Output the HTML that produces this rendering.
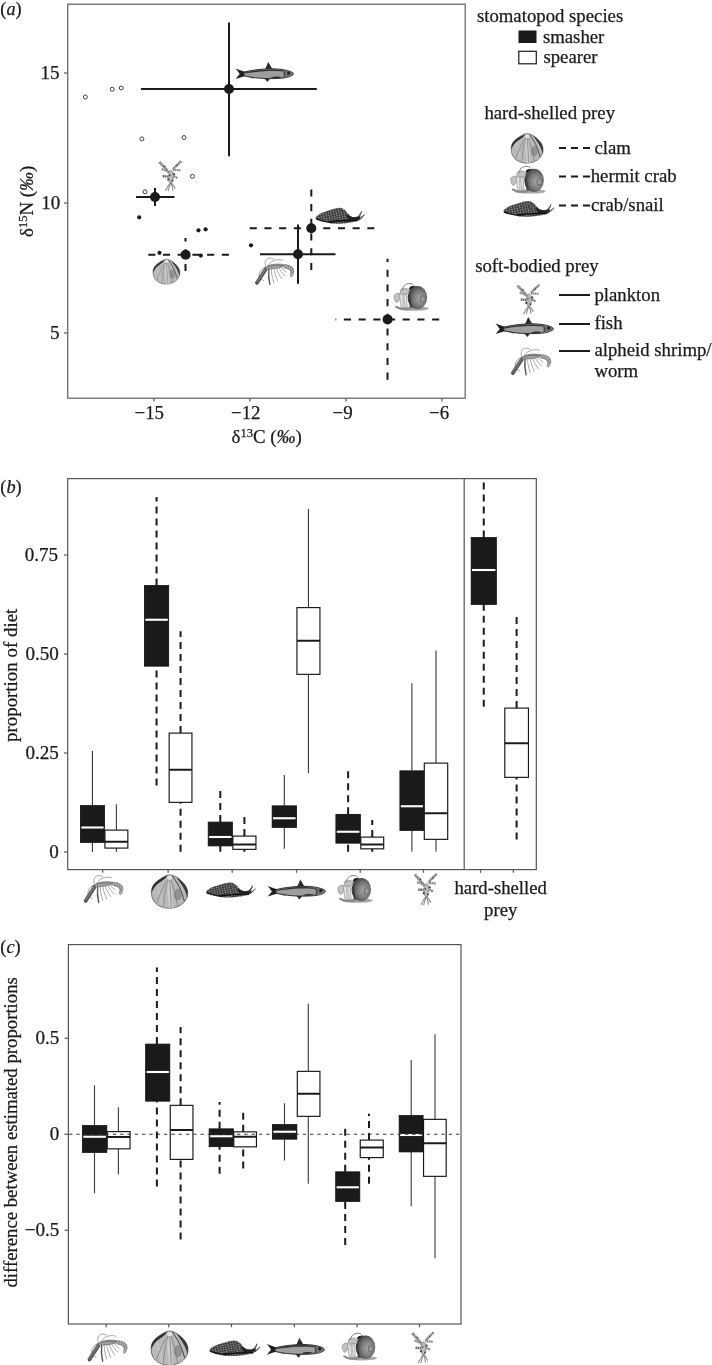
<!DOCTYPE html>
<html><head><meta charset="utf-8">
<style>
html,body{margin:0;padding:0;background:#fff;width:712px;height:1365px;overflow:hidden}
svg{display:block;will-change:transform}
text{font-family:"Liberation Serif",serif;fill:#1a1a1a;font-size:18.9px;stroke:#1a1a1a;stroke-width:0.25px}
.it{font-style:italic}
.tk text,text.tk{font-size:19.1px}
text.lg{font-size:18.75px}
</style></head><body>
<svg width="712" height="1365" viewBox="0 0 712 1365">
<defs>
<!--ICONS-->
<g id="fish">
 <pattern id="fspk" width="2" height="1.6" patternUnits="userSpaceOnUse">
  <rect width="2" height="1.6" fill="#b2b2b2"/><circle cx="1" cy="0.8" r="0.5" fill="#555"/>
 </pattern>
 <path d="M0,6.3 C2,8.5 3.5,10.5 4.4,12 C3,13.8 1.5,15.5 0.3,17 C3.5,15.8 6.5,14.8 10,13.8 L10,9.8 C6.5,8.8 3.5,7.6 0,6.3 Z" fill="#1e1e1e"/>
 <path d="M8.5,10 C15,8.3 25,7 33,6.7 C42,6.5 50,7.4 55.5,9.6 C57.5,10.5 58.2,11.4 58,12.2 C57,13.6 54,14.8 50,15.6 C45,16.4 39,16.6 33,16.5 C24,16.5 15,15.2 8.5,13.7 Z" fill="url(#fspk)" stroke="#1e1e1e" stroke-width="0.9"/>
 <path d="M9,10.4 C16,8.7 26,7.5 34,7.3 C43,7.2 51,8.2 56,10.2 C48,9.2 40,8.9 33,9 C24,9.3 16,10.3 9,11.4 Z" fill="#333"/>
 <path d="M47,8 C51,8.6 55,9.6 57.4,10.8 C58.3,11.6 58,12.6 56.6,13.4 C53.5,14.8 50.5,15.5 47.6,15.9 C48.6,13 48.4,10.5 47,8 Z" fill="#6e6e6e"/>
 <circle cx="53.2" cy="11" r="1.5" fill="#1a1a1a"/>
 <path d="M48,8.5 C49.5,11 49.5,13.5 48.2,15.8" fill="none" stroke="#333" stroke-width="0.8"/>
 <path d="M29.8,7 L32.8,0 L36.8,6.7 Z" fill="#2a2a2a"/>
 <path d="M29,16.4 L32,20 L34.7,16.3 Z" fill="#2a2a2a"/>
 <path d="M35,15.6 C38,14.2 43,13.9 47,14.8 C43,16.2 38,16.5 35,15.6 Z" fill="#2e2e2e"/>
 <path d="M13,14 C15,14.8 17,15.4 18.5,16.6 C16.5,16.2 14.5,15.3 13,14 Z" fill="#333"/>
</g>
<g id="clam">
 <path d="M18,0.2 C21,0.2 24,1.6 27,3.8 C31,6.8 34.5,10.5 36,15 C37,19.5 36,24 33,27.5 C29.5,31.5 24,33.6 18,33.7 C12,33.8 6.5,31.5 3.2,27.5 C0.5,24 -0.3,19.5 0.4,15 C1,11.5 3,8.8 6.5,6.2 C10,3.6 14,0.3 18,0.2 Z" fill="#b9b9b9" stroke="#4a4a4a" stroke-width="0.7"/>
 <path d="M14,5 C16,14 17,24 17.5,33.5 L22,33.5 C21,24 20.5,14 19.5,3 Z" fill="#cbcbcb"/>
 <path d="M5,13 C6.5,19 8.5,26 11,32 L14,33 C11.5,26 9,19 7,10 Z" fill="#c2c2c2"/>
 <path d="M6.5,6.2 C3,8.8 1,11.5 0.4,15 C0.3,16 0.3,17 0.5,18 C2,13.5 5,10 9,7.5 C12,5.5 14.5,3.5 16.5,1.2 C13,2 9.5,4 6.5,6.2 Z" fill="#2e2e2e"/>
 <path d="M25,2.5 C29,5 33,8.5 35.3,13 C36.5,16 36.6,20 35.8,23.5 C34.8,17.5 32,12 28,7 C27,5.5 26,4 25,2.5 Z" fill="#3a3a3a"/>
 <path d="M21,1.2 C26,8 30.5,16 33,26.5" fill="none" stroke="#333" stroke-width="0.9"/>
 <ellipse cx="26.5" cy="20" rx="4" ry="6" fill="#777" opacity="0.6"/>
 <g stroke="#777" stroke-width="0.7" fill="none">
  <path d="M18,1.5 C13,10 8.5,19 5.5,28.5"/>
  <path d="M18,1.5 C15,11 13,21 12,32.5"/>
  <path d="M18.3,1.5 C19,12 19.5,23 20,33.5"/>
  <path d="M18.6,1.5 C22,12 24.5,22 26.5,32"/>
 </g>
 <ellipse cx="18.3" cy="3.2" rx="2.6" ry="2.2" fill="#e0e0e0"/>
</g>
<g id="hermit">
 <radialGradient id="hsg" cx="0.62" cy="0.55" r="0.6">
  <stop offset="0" stop-color="#a8a8a8"/><stop offset="0.55" stop-color="#7a7a7a"/><stop offset="1" stop-color="#404040"/>
 </radialGradient>
 <ellipse cx="20" cy="25.3" rx="15.5" ry="2.2" fill="#a8a8a8"/>
 <ellipse cx="24" cy="14.2" rx="9.8" ry="11.6" fill="url(#hsg)"/>
 <ellipse cx="29.3" cy="15.8" rx="2.6" ry="3.2" fill="#9a9a9a" stroke="#555" stroke-width="0.7"/>
 <path d="M15.5,5 C17,3.2 19.5,2.4 22,2.6 C19.5,3.8 17.8,5.2 16.6,7 Z" fill="#111"/>
 <path d="M14.5,8 C15.5,14 15,20 16.5,25 L19,25 C17,19 17,13 16,7 Z" fill="#333" opacity="0.7"/>
 <g fill="#c2c2c2" stroke="#8a8a8a" stroke-width="0.7">
  <path d="M0.8,12.5 C2,10 5,9.3 7,10.5 C7.5,13.5 6,17.5 3.5,19.5 C1.5,18.5 0.2,15.5 0.8,12.5 Z"/>
  <path d="M7,6.5 C9,4.5 13,4.5 15.5,6.5 L15.5,10.5 C12.5,11.5 9.5,11 7,9.5 Z"/>
 </g>
 <g fill="#e2e2e2" stroke="#8a8a8a" stroke-width="0.6">
  <path d="M6,11 L7.5,23 L10,23 L9.5,11 Z"/>
  <path d="M10.2,11 L11.5,23 L13.8,23 L13,11 Z"/>
 </g>
 <path d="M9,7 C9.5,2.5 12,0.4 16,0.3 C18.5,0.2 19.5,0.8 20,1.5" fill="none" stroke="#7a7a7a" stroke-width="1"/>
 <path d="M2,23 C6,25.5 12,26 17,25.5" fill="none" stroke="#8a8a8a" stroke-width="2"/>
</g>
<g id="snail">
 <pattern id="spk" width="2.6" height="2.2" patternUnits="userSpaceOnUse" patternTransform="rotate(-12)">
  <rect width="2.6" height="2.2" fill="#333"/><circle cx="1.3" cy="1.1" r="0.8" fill="#a0a0a0"/>
 </pattern>
 <path d="M0,9.6 C2,6.6 7,4.4 13,2.8 C17,1.6 21,0.4 24.5,0.3 C28,0.6 30.5,2.6 32.5,5.6 C34.2,8 36.5,9.2 40.5,9 C42.8,8.6 44.4,7 46.3,3.2 L47.2,3.6 C46,6.4 45.2,8.4 45.4,9.6 C46.8,8.6 48.2,7.2 49.4,6.2 L49.7,7 C47.5,9.6 45.5,11.8 42,12.9 C36,14.4 30,15.2 24,15.4 C18,15.5 14,14.9 12,13.8 C8,13.5 3,12.5 0.5,11 Z" fill="url(#spk)"/>
 <path d="M0.5,10.5 C5,12.5 10,13.6 16,14.2" fill="none" stroke="#1a1a1a" stroke-width="1.4"/>
 <path d="M14,13.8 C24,12.6 34,11.8 43,12" fill="none" stroke="#111" stroke-width="1.6"/>
 <path d="M32.5,5.8 C34.5,8.3 37,9.4 41,9.2 C43,8.8 44.5,8 45.4,9.6 C44,11 41,12 36,12 C33,11.5 31,9 32.5,5.8 Z" fill="#222"/>
</g>
<g id="plankton" fill="none" stroke-linecap="butt">
 <g stroke="#8e8e8e" stroke-dasharray="1.7 0.45">
  <path d="M0.5,0.6 C4,4 7.5,8 11,12" stroke-width="3"/>
  <path d="M22.4,-0.2 C19.5,2.5 16.5,5 14.2,8" stroke-width="2.6"/>
  <path d="M2.8,7.8 C4.5,8.2 6.5,8.8 8.5,9.8" stroke-width="2.4"/>
  <path d="M21.6,9 C19,8.6 16.5,8.4 14.2,9" stroke-width="2.2"/>
  <path d="M3.8,14.8 C5.5,14.8 7.5,14.9 9.5,15.2" stroke-width="2.4" stroke="#6a6a6a"/>
  <path d="M18.5,16.6 C17,15.6 15.5,14.8 13.8,14.2" stroke-width="2.2" stroke="#7a7a7a"/>
 </g>
 <g stroke="#777" stroke-width="0.8">
  <path d="M0.5,0.6 C4,4 7.5,8 11,12"/>
  <path d="M22.4,-0.2 C19.5,2.5 16.5,5 14.2,8"/>
 </g>
 <ellipse cx="12.1" cy="15.5" rx="2.5" ry="6.5" fill="#b8b8b8" stroke="#8a8a8a" stroke-width="0.8"/>
 <g stroke="#8a8a8a" stroke-width="1.1" stroke-linecap="round">
  <path d="M11.6,21.5 C9.5,24 8,26.5 6.8,29.2"/>
  <path d="M11.8,21.5 C10.8,25 10,27 9.4,29.3"/>
  <path d="M12.2,21.5 C13.5,24.5 14,26.5 14,28.8"/>
  <path d="M12.4,21.5 C14.5,23.5 15.8,25 16.2,27"/>
 </g>
 <g fill="#3a3a3a">
  <circle cx="15.3" cy="12.6" r="1.1"/>
  <circle cx="9.4" cy="18.2" r="1.1"/>
  <circle cx="13.6" cy="19.3" r="0.9"/>
  <circle cx="11" cy="14" r="0.8"/>
  <circle cx="6" cy="4.8" r="0.8"/>
  <circle cx="18.5" cy="4" r="0.7"/>
 </g>
</g>
<g id="shrimp" fill="none" stroke-linecap="round">
 <g stroke="#8a8a8a" stroke-width="0.75">
  <path d="M11,9.5 C9.5,6 10,3 12.5,1.2 C14.5,0.2 17,0.6 19,1.6"/>
  <path d="M13,8.5 C15,5 18,3 22,2.3 C24,2 26,2.2 28,2.8"/>
  <path d="M10.5,10.2 C7,11 5,13.5 4.3,17 C4,20 5.5,22.5 8.5,23.5"/>
  <path d="M16.5,11.5 C16.5,15 17,19 19,25.5"/>
  <path d="M19,11.3 C19.5,15 21,19 23,24"/>
  <path d="M21.5,11 C22.5,14.5 24.5,18 27,21.5"/>
  <path d="M24,10.5 C25.5,13.5 27.5,16 30,18.5"/>
  <path d="M26.5,10 C28,12 29.5,13.5 31.5,15"/>
 </g>
 <path d="M14,11.5 C13.5,16 13.5,21 15,27.5" stroke="#555" stroke-width="1.4"/>
 <path d="M0.5,25.3 C0,27 1.6,28.3 3,27.2 L12.6,12.2 L10.2,10.3 Z" fill="#5a5a5a" stroke="#333" stroke-width="0.5"/>
 <path d="M2.2,25 L10.8,12" stroke="#8a8a8a" stroke-width="0.8"/>
 <path d="M11,10 C15,7 20,6.3 26,6.8 C28,7 29.5,7.6 30,8.5 C27,10 22,11.2 16,11.5 C13.5,11.6 12,11 11,10 Z" fill="#a2a2a2" stroke="#555" stroke-width="0.6"/>
 <path d="M13,9 C17,8 22,7.8 28,8.2" stroke="#666" stroke-width="0.8"/>
 <path d="M29,7.2 C33,7.3 36.5,8.5 38.5,11 C39.5,13 39.3,16 38,18.5 L36.6,20 C35.5,19 35.5,17.5 36.2,16 C36.5,14 35.5,12.5 33.5,11.5 C32,11 30.5,10.8 29.5,10.5 Z" fill="#b4b4b4" stroke="#666" stroke-width="0.6"/>
 <g stroke="#6a6a6a" stroke-width="0.7">
  <path d="M31.5,7.4 L31.2,10.8 M34,7.9 L33.4,11.6 M36.3,9 L35.3,13 M38.2,11 L36.4,14.6 M39,14 L36.6,16.5"/>
 </g>
</g>

</defs>

<!-- ================= PANEL A ================= -->
<text x="0.3" y="15.4" style="font-size:18.3px">(<tspan class="it">a</tspan>)</text>
<g fill="none" stroke="#6a6a6a" stroke-width="1.3">
<rect x="67.7" y="4.2" width="397.5" height="394"/>
</g>
<!-- y ticks -->
<g stroke="#555" stroke-width="1.2">
<line x1="64" y1="73" x2="67.5" y2="73"/>
<line x1="64" y1="203" x2="67.5" y2="203"/>
<line x1="64" y1="333" x2="67.5" y2="333"/>
<line x1="154" y1="398" x2="154" y2="401.5"/>
<line x1="250" y1="398" x2="250" y2="401.5"/>
<line x1="346" y1="398" x2="346" y2="401.5"/>
<line x1="442" y1="398" x2="442" y2="401.5"/>
</g>
<g text-anchor="end" class="tk">
<text x="59.6" y="78.6">15</text>
<text x="60.3" y="208.8">10</text>
<text x="59.6" y="339.2">5</text>
</g>
<g>
<text x="134.5" y="419">−15</text>
<text x="231" y="419">−12</text>
<text x="332.5" y="419">−9</text>
<text x="429" y="419">−6</text>
</g>
<text x="231.5" y="443.2">δ<tspan font-size="12.5" dy="-6.5">13</tspan><tspan dy="6.5">C (<tspan class="it">‰</tspan>)</tspan></text>
<text transform="translate(33.2,237) rotate(-90)">δ<tspan font-size="12.5" dy="-6.5">15</tspan><tspan dy="6.5">N (<tspan class="it">‰</tspan>)</tspan></text>

<!--INST-->
<g id="instances">
<use href="#fish" transform="translate(235.4,62.1)"/>
<use href="#fish" transform="translate(495.4,317.1)"/>
<use href="#fish" transform="translate(267.5,879.6)"/>
<use href="#fish" transform="translate(266.6,1337.8)"/>
<use href="#clam" transform="translate(152.9,259.1) scale(0.74)"/>
<use href="#clam" transform="translate(511,133.4) scale(0.882)"/>
<use href="#clam" transform="translate(151.3,874.6)"/>
<use href="#clam" transform="translate(150.9,1330.8) scale(1.02)"/>
<use href="#hermit" transform="translate(393.4,283.3)"/>
<use href="#hermit" transform="translate(510.1,166.1) scale(1.0)"/>
<use href="#hermit" transform="translate(337.3,875.3)"/>
<use href="#hermit" transform="translate(341.5,1333)"/>
<use href="#snail" transform="translate(315.5,207.5) scale(0.99,1.06)"/>
<use href="#snail" transform="translate(503.4,200.8) scale(1.02,1.04)"/>
<use href="#snail" transform="translate(206,882.1)"/>
<use href="#snail" transform="translate(209.4,1340.2) scale(1.02,1.03)"/>
<use href="#plankton" transform="translate(158.8,161.4)"/>
<use href="#plankton" transform="translate(516.9,285.1) scale(1.0,0.98)"/>
<use href="#plankton" transform="translate(414.3,874.1) scale(1.0,1.05)"/>
<use href="#plankton" transform="translate(411.8,1332.6) scale(0.97,1.03)"/>
<use href="#shrimp" transform="translate(255,257.5) scale(0.99,0.98)"/>
<use href="#shrimp" transform="translate(510.8,347.5) scale(1.02,0.99)"/>
<use href="#shrimp" transform="translate(83.7,875)"/>
<use href="#shrimp" transform="translate(87.5,1333.4) scale(1.01)"/>
</g>

<!-- raw data points -->
<g fill="none" stroke="#333" stroke-width="0.95">
<circle cx="85.3" cy="97" r="2"/>
<circle cx="112.2" cy="89.3" r="2"/>
<circle cx="121.3" cy="88" r="2"/>
<circle cx="141.9" cy="138.9" r="2"/>
<circle cx="184" cy="137.5" r="2"/>
<circle cx="192.4" cy="176.3" r="2"/>
<circle cx="145" cy="191.8" r="2"/>
</g>
<g fill="#1a1a1a">
<circle cx="139.2" cy="217.3" r="2.1"/>
<circle cx="198.5" cy="230.3" r="2.1"/>
<circle cx="205.6" cy="229.3" r="2.1"/>
<circle cx="159.5" cy="252.8" r="2.1"/>
<circle cx="200.8" cy="255.6" r="2.1"/>
<circle cx="251" cy="245.3" r="2.1"/>
</g>

<!-- error bars solid -->
<g stroke="#1a1a1a" stroke-width="2" fill="none">
<line x1="141" y1="89" x2="316.8" y2="89"/>
<line x1="229" y1="22.5" x2="229" y2="156.2"/>
<line x1="136" y1="197" x2="174.5" y2="197"/>
<line x1="155" y1="188" x2="155" y2="206"/>
<line x1="260" y1="254.2" x2="335.5" y2="254.2"/>
<line x1="298" y1="224.5" x2="298" y2="283.8"/>
</g>
<g stroke="#1a1a1a" stroke-width="2" fill="none" stroke-dasharray="7.1 7.6">
<line x1="148.3" y1="254.7" x2="229.3" y2="254.7"/>
<line x1="185.5" y1="271" x2="185.5" y2="238"/>
<line x1="249.7" y1="228.3" x2="374.3" y2="228.3"/>
<line x1="311.3" y1="270" x2="311.3" y2="189.5"/>
<line x1="439.2" y1="319.5" x2="335.5" y2="319.5"/>
<line x1="387.5" y1="379.7" x2="387.5" y2="258.8"/>
</g>
<g fill="#1a1a1a">
<circle cx="229" cy="89" r="5"/>
<circle cx="155" cy="197" r="5"/>
<circle cx="298" cy="254.2" r="5"/>
<circle cx="185.6" cy="254.7" r="5"/>
<circle cx="311.3" cy="228.3" r="5"/>
<circle cx="387.6" cy="319.4" r="5"/>
</g>

<!-- legend -->
<text class="lg" x="476.9" y="21.8">stomatopod species</text>
<rect x="518.5" y="30.5" width="18" height="12.5" fill="#1a1a1a"/>
<rect x="518.8" y="51.3" width="17.5" height="12.5" fill="#fff" stroke="#1a1a1a" stroke-width="1.2"/>
<text class="lg" x="542.9" y="42.5">smasher</text>
<text class="lg" x="543.4" y="63">spearer</text>
<text class="lg" x="484.4" y="118.8">hard-shelled prey</text>
<g stroke="#1a1a1a" stroke-width="2" stroke-dasharray="7 5">
<line x1="559" y1="148" x2="591" y2="148"/>
<line x1="559" y1="176.5" x2="591" y2="176.5"/>
<line x1="559" y1="205.5" x2="591" y2="205.5"/>
</g>
<text class="lg" x="594.4" y="154">clam</text>
<text class="lg" x="590.7" y="182.2">hermit crab</text>
<text class="lg" x="590.9" y="211.1">crab/snail</text>
<text class="lg" x="475.2" y="272.3">soft-bodied prey</text>
<g stroke="#1a1a1a" stroke-width="2">
<line x1="559" y1="295" x2="590" y2="295"/>
<line x1="559" y1="324" x2="590" y2="324"/>
<line x1="559" y1="351" x2="590" y2="351"/>
</g>
<text class="lg" x="594.4" y="300.8">plankton</text>
<text class="lg" x="594.4" y="329">fish</text>
<text class="lg" x="594.4" y="355.7">alpheid shrimp/</text>
<text class="lg" x="594.4" y="377.1">worm</text>

<!--PANELB-->
<!-- ================= PANEL B ================= -->
<text x="0.3" y="493" style="font-size:18.3px">(<tspan class="it">b</tspan>)</text>
<rect x="67.7" y="478.6" width="468.6" height="391" fill="none" stroke="#555" stroke-width="1.2"/>
<line x1="464.2" y1="478.6" x2="464.2" y2="869.6" stroke="#555" stroke-width="1.2"/>
<g stroke="#555" stroke-width="1.2"><line x1="64" y1="852" x2="67.5" y2="852"/><line x1="64" y1="753" x2="67.5" y2="753"/><line x1="64" y1="654" x2="67.5" y2="654"/><line x1="64" y1="555" x2="67.5" y2="555"/><line x1="102.7" y1="869.6" x2="102.7" y2="872.8"/><line x1="168.1" y1="869.6" x2="168.1" y2="872.8"/><line x1="232.2" y1="869.6" x2="232.2" y2="872.8"/><line x1="296.5" y1="869.6" x2="296.5" y2="872.8"/><line x1="360.25" y1="869.6" x2="360.25" y2="872.8"/><line x1="423.5" y1="869.6" x2="423.5" y2="872.8"/><line x1="480.5" y1="869.6" x2="480.5" y2="872.8"/><line x1="513.3" y1="869.6" x2="513.3" y2="872.8"/></g>
<g text-anchor="end" class="tk"><text x="58.8" y="857.9">0</text><text x="58.8" y="759.4">0.25</text><text x="58.8" y="660.2">0.50</text><text x="58.1" y="560.9">0.75</text></g>
<text transform="translate(16.7,742) rotate(-90)">proportion of diet</text>
<line x1="92.45" y1="805.50" x2="92.45" y2="751.00" stroke="#3a3a3a" stroke-width="1.1"/>
<line x1="92.45" y1="852.00" x2="92.45" y2="842.50" stroke="#3a3a3a" stroke-width="1.1"/>
<rect x="80.40" y="805.60" width="24.10" height="36.80" fill="#1a1a1a" stroke="#0e0e0e" stroke-width="0.8"/>
<line x1="81.30" y1="827.50" x2="103.60" y2="827.50" stroke="#fff" stroke-width="2.1"/>
<line x1="116.40" y1="830.00" x2="116.40" y2="804.25" stroke="#3a3a3a" stroke-width="1.1"/>
<line x1="116.40" y1="852.00" x2="116.40" y2="848.00" stroke="#3a3a3a" stroke-width="1.1"/>
<rect x="104.95" y="830.10" width="22.90" height="18.00" fill="#fff" stroke="#151515" stroke-width="1.15"/>
<line x1="104.90" y1="841.75" x2="127.90" y2="841.75" stroke="#1a1a1a" stroke-width="2.0"/>
<line x1="156.55" y1="585.50" x2="156.55" y2="497.00" stroke="#1a1a1a" stroke-width="2" stroke-dasharray="7 5"/>
<line x1="156.55" y1="785.50" x2="156.55" y2="666.25" stroke="#1a1a1a" stroke-width="2" stroke-dasharray="7 5"/>
<rect x="144.40" y="585.60" width="24.30" height="80.55" fill="#1a1a1a" stroke="#0e0e0e" stroke-width="0.8"/>
<line x1="145.30" y1="619.75" x2="167.80" y2="619.75" stroke="#fff" stroke-width="2.1"/>
<line x1="180.55" y1="733.00" x2="180.55" y2="631.25" stroke="#1a1a1a" stroke-width="2" stroke-dasharray="7 5"/>
<line x1="180.55" y1="851.75" x2="180.55" y2="802.25" stroke="#1a1a1a" stroke-width="2" stroke-dasharray="7 5"/>
<rect x="169.15" y="733.10" width="22.80" height="69.25" fill="#fff" stroke="#151515" stroke-width="1.15"/>
<line x1="169.10" y1="769.75" x2="192.00" y2="769.75" stroke="#1a1a1a" stroke-width="2.0"/>
<line x1="220.30" y1="822.00" x2="220.30" y2="788.25" stroke="#1a1a1a" stroke-width="2" stroke-dasharray="7 5"/>
<line x1="220.30" y1="851.75" x2="220.30" y2="846.00" stroke="#1a1a1a" stroke-width="2" stroke-dasharray="7 5"/>
<rect x="208.20" y="822.10" width="24.20" height="23.80" fill="#1a1a1a" stroke="#0e0e0e" stroke-width="0.8"/>
<line x1="209.10" y1="837.00" x2="231.50" y2="837.00" stroke="#fff" stroke-width="2.1"/>
<line x1="244.40" y1="836.00" x2="244.40" y2="817.00" stroke="#1a1a1a" stroke-width="2" stroke-dasharray="7 5"/>
<line x1="244.40" y1="851.75" x2="244.40" y2="849.25" stroke="#1a1a1a" stroke-width="2" stroke-dasharray="7 5"/>
<rect x="232.85" y="836.10" width="23.10" height="13.25" fill="#fff" stroke="#151515" stroke-width="1.15"/>
<line x1="232.80" y1="844.50" x2="256.00" y2="844.50" stroke="#1a1a1a" stroke-width="2.0"/>
<line x1="284.32" y1="805.75" x2="284.32" y2="775.00" stroke="#3a3a3a" stroke-width="1.1"/>
<line x1="284.32" y1="848.75" x2="284.32" y2="827.50" stroke="#3a3a3a" stroke-width="1.1"/>
<rect x="272.15" y="805.85" width="24.35" height="21.55" fill="#1a1a1a" stroke="#0e0e0e" stroke-width="0.8"/>
<line x1="273.05" y1="818.25" x2="295.60" y2="818.25" stroke="#fff" stroke-width="2.1"/>
<line x1="308.45" y1="607.50" x2="308.45" y2="508.75" stroke="#3a3a3a" stroke-width="1.1"/>
<line x1="308.45" y1="773.25" x2="308.45" y2="674.25" stroke="#3a3a3a" stroke-width="1.1"/>
<rect x="296.95" y="607.60" width="23.00" height="66.75" fill="#fff" stroke="#151515" stroke-width="1.15"/>
<line x1="296.90" y1="640.75" x2="320.00" y2="640.75" stroke="#1a1a1a" stroke-width="2.0"/>
<line x1="348.12" y1="814.25" x2="348.12" y2="770.75" stroke="#1a1a1a" stroke-width="2" stroke-dasharray="7 5"/>
<line x1="348.12" y1="851.75" x2="348.12" y2="843.25" stroke="#1a1a1a" stroke-width="2" stroke-dasharray="7 5"/>
<rect x="335.90" y="814.35" width="24.45" height="28.80" fill="#1a1a1a" stroke="#0e0e0e" stroke-width="0.8"/>
<line x1="336.80" y1="831.75" x2="359.45" y2="831.75" stroke="#fff" stroke-width="2.1"/>
<line x1="372.25" y1="837.00" x2="372.25" y2="820.00" stroke="#1a1a1a" stroke-width="2" stroke-dasharray="7 5"/>
<line x1="372.25" y1="851.75" x2="372.25" y2="848.75" stroke="#1a1a1a" stroke-width="2" stroke-dasharray="7 5"/>
<rect x="360.80" y="837.10" width="22.90" height="11.75" fill="#fff" stroke="#151515" stroke-width="1.15"/>
<line x1="360.75" y1="844.50" x2="383.75" y2="844.50" stroke="#1a1a1a" stroke-width="2.0"/>
<line x1="411.88" y1="770.75" x2="411.88" y2="683.25" stroke="#3a3a3a" stroke-width="1.1"/>
<line x1="411.88" y1="851.75" x2="411.88" y2="830.50" stroke="#3a3a3a" stroke-width="1.1"/>
<rect x="399.90" y="770.85" width="23.95" height="59.55" fill="#1a1a1a" stroke="#0e0e0e" stroke-width="0.8"/>
<line x1="400.80" y1="806.25" x2="422.95" y2="806.25" stroke="#fff" stroke-width="2.1"/>
<line x1="436.00" y1="763.00" x2="436.00" y2="650.50" stroke="#3a3a3a" stroke-width="1.1"/>
<line x1="436.00" y1="851.75" x2="436.00" y2="839.25" stroke="#3a3a3a" stroke-width="1.1"/>
<rect x="424.30" y="763.10" width="23.40" height="76.25" fill="#fff" stroke="#151515" stroke-width="1.15"/>
<line x1="424.25" y1="813.25" x2="447.75" y2="813.25" stroke="#1a1a1a" stroke-width="2.0"/>
<line x1="483.75" y1="537.50" x2="483.75" y2="482.50" stroke="#1a1a1a" stroke-width="2" stroke-dasharray="7 5"/>
<line x1="483.75" y1="706.75" x2="483.75" y2="604.50" stroke="#1a1a1a" stroke-width="2" stroke-dasharray="7 5"/>
<rect x="471.15" y="537.60" width="25.20" height="66.80" fill="#1a1a1a" stroke="#0e0e0e" stroke-width="0.8"/>
<line x1="472.05" y1="570.00" x2="495.45" y2="570.00" stroke="#fff" stroke-width="2.1"/>
<line x1="516.62" y1="708.00" x2="516.62" y2="616.75" stroke="#1a1a1a" stroke-width="2" stroke-dasharray="7 5"/>
<line x1="516.62" y1="839.50" x2="516.62" y2="777.25" stroke="#1a1a1a" stroke-width="2" stroke-dasharray="7 5"/>
<rect x="504.80" y="708.10" width="23.65" height="69.25" fill="#fff" stroke="#151515" stroke-width="1.15"/>
<line x1="504.75" y1="743.25" x2="528.50" y2="743.25" stroke="#1a1a1a" stroke-width="2.0"/>
<text x="500.7" y="893.9" text-anchor="middle" style="font-size:18.7px">hard-shelled</text>
<text x="500.7" y="915.9" text-anchor="middle" style="font-size:18.7px">prey</text>
<!-- ================= PANEL C ================= -->
<text x="0.3" y="953" style="font-size:18.3px">(<tspan class="it">c</tspan>)</text>
<rect x="68.4" y="944.6" width="392.6" height="379.4" fill="none" stroke="#555" stroke-width="1.2"/>
<g stroke="#555" stroke-width="1.2"><line x1="64.5" y1="1038.25" x2="68" y2="1038.25"/><line x1="64.5" y1="1134.25" x2="68" y2="1134.25"/><line x1="64.5" y1="1230.25" x2="68" y2="1230.25"/><line x1="106.2" y1="1324" x2="106.2" y2="1327.2"/><line x1="168.7" y1="1324" x2="168.7" y2="1327.2"/><line x1="231.5" y1="1324" x2="231.5" y2="1327.2"/><line x1="294.3" y1="1324" x2="294.3" y2="1327.2"/><line x1="357.1" y1="1324" x2="357.1" y2="1327.2"/><line x1="419.5" y1="1324" x2="419.5" y2="1327.2"/></g>
<g text-anchor="end" class="tk"><text x="59.3" y="1044">0.5</text><text x="59.3" y="1140">0</text><text x="59.3" y="1235.5">−0.5</text></g>
<text transform="translate(17.2,1287.6) rotate(-90)" style="font-size:18.75px">difference between estimated proportions</text>
<line x1="94.50" y1="1125.50" x2="94.50" y2="1085.30" stroke="#3a3a3a" stroke-width="1.1"/>
<line x1="94.50" y1="1193.20" x2="94.50" y2="1152.50" stroke="#3a3a3a" stroke-width="1.1"/>
<rect x="82.40" y="1125.60" width="24.40" height="26.80" fill="#1a1a1a" stroke="#0e0e0e" stroke-width="0.8"/>
<line x1="83.30" y1="1136.75" x2="105.90" y2="1136.75" stroke="#fff" stroke-width="2.1"/>
<line x1="118.40" y1="1131.50" x2="118.40" y2="1107.20" stroke="#3a3a3a" stroke-width="1.1"/>
<line x1="118.40" y1="1174.50" x2="118.40" y2="1148.75" stroke="#3a3a3a" stroke-width="1.1"/>
<rect x="107.25" y="1131.60" width="22.80" height="17.25" fill="#fff" stroke="#151515" stroke-width="1.15"/>
<line x1="107.20" y1="1137.00" x2="130.10" y2="1137.00" stroke="#1a1a1a" stroke-width="2.0"/>
<line x1="156.90" y1="1044.00" x2="156.90" y2="967.50" stroke="#1a1a1a" stroke-width="2" stroke-dasharray="7 5"/>
<line x1="156.90" y1="1186.40" x2="156.90" y2="1101.25" stroke="#1a1a1a" stroke-width="2" stroke-dasharray="7 5"/>
<rect x="145.65" y="1044.10" width="24.15" height="57.05" fill="#1a1a1a" stroke="#0e0e0e" stroke-width="0.8"/>
<line x1="146.55" y1="1072.00" x2="168.90" y2="1072.00" stroke="#fff" stroke-width="2.1"/>
<line x1="180.60" y1="1105.25" x2="180.60" y2="1027.00" stroke="#1a1a1a" stroke-width="2" stroke-dasharray="7 5"/>
<line x1="180.60" y1="1239.60" x2="180.60" y2="1159.30" stroke="#1a1a1a" stroke-width="2" stroke-dasharray="7 5"/>
<rect x="170.25" y="1105.35" width="22.70" height="54.05" fill="#fff" stroke="#151515" stroke-width="1.15"/>
<line x1="170.20" y1="1130.00" x2="193.00" y2="1130.00" stroke="#1a1a1a" stroke-width="2.0"/>
<line x1="219.60" y1="1128.75" x2="219.60" y2="1102.00" stroke="#1a1a1a" stroke-width="2" stroke-dasharray="7 5"/>
<line x1="219.60" y1="1173.75" x2="219.60" y2="1146.75" stroke="#1a1a1a" stroke-width="2" stroke-dasharray="7 5"/>
<rect x="209.15" y="1128.85" width="24.20" height="17.80" fill="#1a1a1a" stroke="#0e0e0e" stroke-width="0.8"/>
<line x1="210.05" y1="1136.25" x2="232.45" y2="1136.25" stroke="#fff" stroke-width="2.1"/>
<line x1="243.20" y1="1131.75" x2="243.20" y2="1110.00" stroke="#1a1a1a" stroke-width="2" stroke-dasharray="7 5"/>
<line x1="243.20" y1="1168.50" x2="243.20" y2="1146.75" stroke="#1a1a1a" stroke-width="2" stroke-dasharray="7 5"/>
<rect x="233.80" y="1131.85" width="22.65" height="15.00" fill="#fff" stroke="#151515" stroke-width="1.15"/>
<line x1="233.75" y1="1136.75" x2="256.50" y2="1136.75" stroke="#1a1a1a" stroke-width="2.0"/>
<line x1="284.50" y1="1124.50" x2="284.50" y2="1103.25" stroke="#3a3a3a" stroke-width="1.1"/>
<line x1="284.50" y1="1160.50" x2="284.50" y2="1139.25" stroke="#3a3a3a" stroke-width="1.1"/>
<rect x="272.40" y="1124.60" width="24.45" height="14.55" fill="#1a1a1a" stroke="#0e0e0e" stroke-width="0.8"/>
<line x1="273.30" y1="1131.75" x2="295.95" y2="1131.75" stroke="#fff" stroke-width="2.1"/>
<line x1="308.30" y1="1071.25" x2="308.30" y2="1003.75" stroke="#3a3a3a" stroke-width="1.1"/>
<line x1="308.30" y1="1183.75" x2="308.30" y2="1116.25" stroke="#3a3a3a" stroke-width="1.1"/>
<rect x="297.30" y="1071.35" width="22.65" height="45.00" fill="#fff" stroke="#151515" stroke-width="1.15"/>
<line x1="297.25" y1="1093.75" x2="320.00" y2="1093.75" stroke="#1a1a1a" stroke-width="2.0"/>
<line x1="345.20" y1="1171.75" x2="345.20" y2="1128.00" stroke="#1a1a1a" stroke-width="2" stroke-dasharray="7 5"/>
<line x1="345.20" y1="1245.00" x2="345.20" y2="1201.50" stroke="#1a1a1a" stroke-width="2" stroke-dasharray="7 5"/>
<rect x="335.70" y="1171.85" width="24.10" height="29.55" fill="#1a1a1a" stroke="#0e0e0e" stroke-width="0.8"/>
<line x1="336.60" y1="1187.30" x2="358.90" y2="1187.30" stroke="#fff" stroke-width="2.1"/>
<line x1="369.00" y1="1140.00" x2="369.00" y2="1113.75" stroke="#1a1a1a" stroke-width="2" stroke-dasharray="7 5"/>
<line x1="369.00" y1="1183.75" x2="369.00" y2="1157.50" stroke="#1a1a1a" stroke-width="2" stroke-dasharray="7 5"/>
<rect x="360.25" y="1140.10" width="23.00" height="17.50" fill="#fff" stroke="#151515" stroke-width="1.15"/>
<line x1="360.20" y1="1147.50" x2="383.30" y2="1147.50" stroke="#1a1a1a" stroke-width="2.0"/>
<line x1="411.20" y1="1115.50" x2="411.20" y2="1060.00" stroke="#3a3a3a" stroke-width="1.1"/>
<line x1="411.20" y1="1206.25" x2="411.20" y2="1152.00" stroke="#3a3a3a" stroke-width="1.1"/>
<rect x="399.15" y="1115.60" width="23.95" height="36.30" fill="#1a1a1a" stroke="#0e0e0e" stroke-width="0.8"/>
<line x1="400.05" y1="1135.00" x2="422.20" y2="1135.00" stroke="#fff" stroke-width="2.1"/>
<line x1="435.00" y1="1119.25" x2="435.00" y2="1034.25" stroke="#3a3a3a" stroke-width="1.1"/>
<line x1="435.00" y1="1258.25" x2="435.00" y2="1176.25" stroke="#3a3a3a" stroke-width="1.1"/>
<rect x="423.55" y="1119.35" width="22.65" height="57.00" fill="#fff" stroke="#151515" stroke-width="1.15"/>
<line x1="423.50" y1="1143.25" x2="446.25" y2="1143.25" stroke="#1a1a1a" stroke-width="2.0"/>
<line x1="69.1" y1="1134.25" x2="460.5" y2="1134.25" stroke="#333" stroke-width="1.15" stroke-dasharray="3.3 4"/>
<!--PANELC-->
</svg>
</body></html>
